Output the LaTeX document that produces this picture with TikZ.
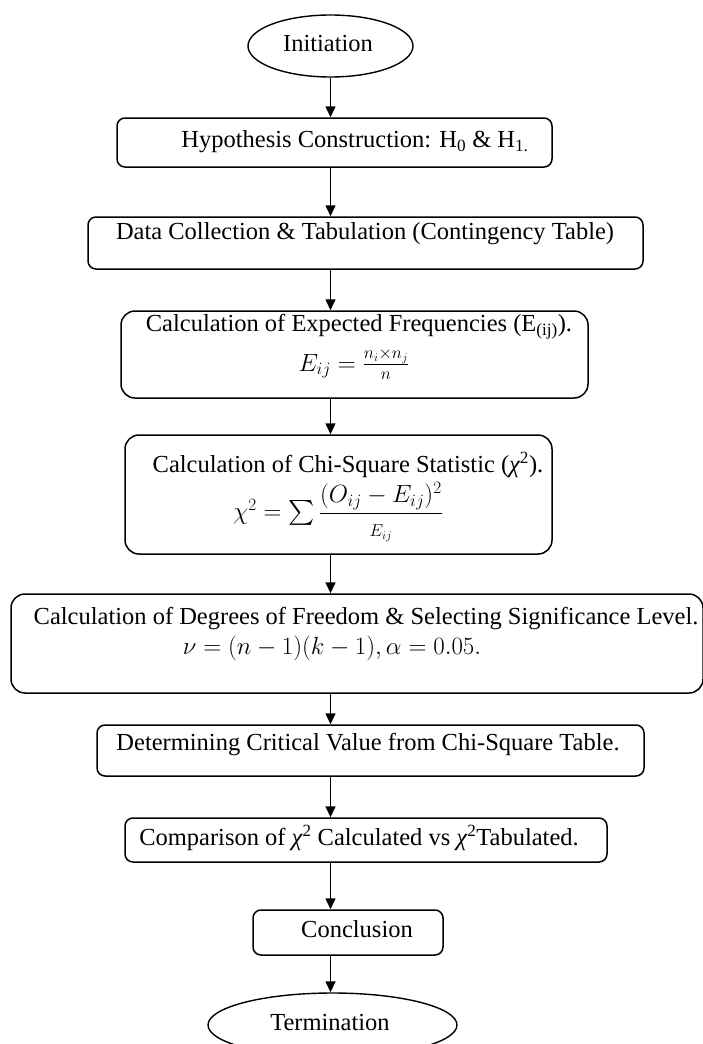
\documentclass[tikz,border=0pt]{standalone}
\usepackage{fontspec}
\setmainfont{Liberation Serif}
\usepackage{amsmath}
\usetikzlibrary{shapes.geometric,arrows.meta}
\newcommand{\chiit}{{\itshape χ}}
\begin{document}
\begin{tikzpicture}[x=1pt,y=-1pt,
  font=\fontsize{24.5}{28}\selectfont,
  box/.style={draw, line width=1.5pt, rounded corners=8pt, inner sep=0pt},
  bigbox/.style={box, rounded corners=14pt},
  oval/.style={draw, ellipse, line width=1.4pt, inner sep=0pt},
  txt/.style={inner sep=0pt, anchor=center},
  arr/.style={-{Triangle[length=11pt,width=10pt]}, line width=1.5pt}]
\useasboundingbox (0,0) rectangle (702,1044);

% shapes
\node[oval, minimum width=165pt, minimum height=62pt] (init) at (330.5,46) {};
\node[box, minimum width=435pt, minimum height=49pt] (hyp) at (334.5,142.5) {};
\node[box, minimum width=555pt, minimum height=52pt] (data) at (365.5,243) {};
\node[bigbox, minimum width=467pt, minimum height=87pt] (exp) at (354.5,354.5) {};
\node[bigbox, minimum width=427pt, minimum height=119pt] (chi) at (338.5,494.5) {};
\node[bigbox, minimum width=692pt, minimum height=99pt] (dof) at (357,643.5) {};
\node[box, minimum width=547pt, minimum height=51pt] (det) at (370.5,750.5) {};
\node[box, minimum width=482pt, minimum height=44pt] (comp) at (366,840) {};
\node[box, minimum width=190pt, minimum height=45pt] (concl) at (348,932.5) {};
\node[oval, minimum width=249pt, minimum height=64pt] (term) at (332.5,1025) {};

% texts
\node[txt] (tinit) at (328,44) {Initiation};
\node[txt] (thyp) at (355,142) {Hypothesis Construction: H\textsubscript{0} \& H\textsubscript{1.}};
\node[txt] (tdata) at (365,234) {Data Collection \& Tabulation (Contingency Table)};
\node[txt] (texp1) at (359,327) {Calculation of Expected Frequencies (E\textsubscript{(ij)}).};
\node[txt] (texp2) at (354,364) {$E_{ij}=\frac{n_i\times n_j}{n}$};
\node[txt] (tchi1) at (348,465) {Calculation of Chi-Square Statistic (\chiit\textsuperscript{2}).};
\node[txt] (tchi2) at (338,512) {$\chi^2=\textstyle\sum\displaystyle\frac{(O_{ij}-E_{ij})^2}{\scriptstyle E_{ij}}$};
\node[txt] (tdof1) at (366,619) {Calculation of Degrees of Freedom \& Selecting Significance Level.};
\node[txt] (tdof2) at (332,648) {$\nu=(n-1)(k-1),\alpha=0.05.$};
\node[txt] (tdet) at (368,745) {Determining Critical Value from Chi-Square Table.};
\node[txt] (tcomp) at (359,838) {Comparison of \chiit\textsuperscript{2} Calculated vs \chiit\textsuperscript{2}Tabulated.};
\node[txt] (tconcl) at (357,929) {Conclusion};
\node[txt] (tterm) at (330,1022) {Termination};

% connectors
\draw[arr] (init.south) -- (init.south |- hyp.north);
\draw[arr] (hyp.south -| init.south) -- (data.north -| init.south);
\draw[arr] (data.south -| init.south) -- (exp.north -| init.south);
\draw[arr] (exp.south -| init.south) -- (chi.north -| init.south);
\draw[arr] (chi.south -| init.south) -- (dof.north -| init.south);
\draw[arr] (dof.south -| init.south) -- (det.north -| init.south);
\draw[arr] (det.south -| init.south) -- (comp.north -| init.south);
\draw[arr] (comp.south -| init.south) -- (concl.north -| init.south);
\draw[arr] (concl.south -| init.south) -- (term.north -| init.south);
\end{tikzpicture}
\end{document}
